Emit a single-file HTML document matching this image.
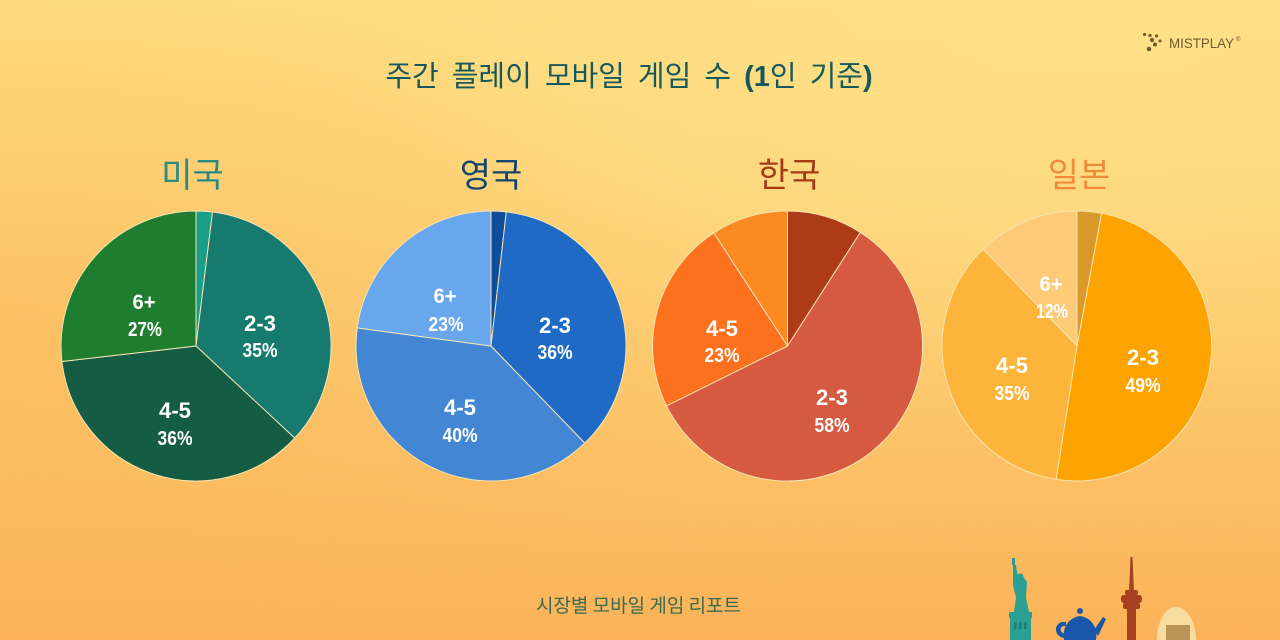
<!DOCTYPE html>
<html>
<head>
<meta charset="utf-8">
<style>
html,body{margin:0;padding:0;}
body{width:1280px;height:640px;overflow:hidden;position:relative;
background:linear-gradient(180deg,#fedc80 0%,#fdd67b 30%,#fdcb70 55%,#fcbd63 78%,#fbb257 100%);}
.wrap{position:absolute;left:0;top:0;width:1280px;height:640px;}
</style>
</head>
<body>
<svg class="wrap" width="1280" height="640" viewBox="0 0 1280 640" xmlns="http://www.w3.org/2000/svg">
  <defs>
    <radialGradient id="lside" cx="0" cy="0.55" r="0.6">
      <stop offset="0" stop-color="#fbb455" stop-opacity="0.55"/>
      <stop offset="1" stop-color="#fbb455" stop-opacity="0"/>
    </radialGradient>
    <radialGradient id="tright" cx="0.85" cy="0" r="0.6">
      <stop offset="0" stop-color="#fee48c" stop-opacity="0.6"/>
      <stop offset="1" stop-color="#fee48c" stop-opacity="0"/>
    </radialGradient>
    <filter id="grain" x="0" y="0" width="100%" height="100%">
      <feTurbulence type="fractalNoise" baseFrequency="0.9" numOctaves="2" seed="3"/>
      <feColorMatrix type="matrix" values="0 0 0 0 0.95  0 0 0 0 0.62  0 0 0 0 0.25  0 0 0 1.4 -0.75"/>
    </filter>
    <linearGradient id="grainfade" x1="0" y1="0" x2="0" y2="1">
      <stop offset="0.55" stop-color="#fff" stop-opacity="0"/>
      <stop offset="1" stop-color="#fff" stop-opacity="1"/>
    </linearGradient>
    <mask id="gm"><rect width="1280" height="640" fill="url(#grainfade)"/></mask>
  </defs>
  <rect width="1280" height="640" fill="url(#lside)"/>
  <rect width="1280" height="640" fill="url(#tright)"/>
  <rect width="1280" height="640" filter="url(#grain)" mask="url(#gm)" opacity="0.5"/>

  <!-- Logo -->
  <g fill="#6e5c2f">
    <circle cx="1144.5" cy="34.5" r="1.6"/>
    <circle cx="1150" cy="35.5" r="1.6"/>
    <circle cx="1156.5" cy="36" r="1.6"/>
    <circle cx="1152" cy="40" r="2.1"/>
    <circle cx="1160" cy="41" r="1.5"/>
    <circle cx="1155" cy="44.5" r="2"/>
    <circle cx="1149" cy="49" r="2.3"/>
  </g>
  <text x="1169" y="48" font-family="Liberation Sans, sans-serif" font-size="13.5" fill="#6e5c2f" textLength="65" lengthAdjust="spacingAndGlyphs">MISTPLAY</text>
  <text x="1236" y="41" font-family="Liberation Sans, sans-serif" font-size="6" fill="#6e5c2f">®</text>

  <!-- Title -->
  <text x="629" y="86" text-anchor="middle" font-family="Liberation Sans, 'Noto Sans CJK KR', sans-serif" font-size="29" fill="#17585a" word-spacing="5">주간 플레이 모바일 게임 수 <tspan font-weight="bold">(1</tspan>인 기준<tspan font-weight="bold">)</tspan></text>

  <!-- Country titles -->
  <g font-family="'Noto Sans CJK KR', sans-serif" font-size="34" text-anchor="middle">
    <text x="192.5" y="187" fill="#2a8a86">미국</text>
    <text x="491" y="187" fill="#15456c">영국</text>
    <text x="789" y="187" fill="#a63a14">한국</text>
    <text x="1079" y="187" fill="#f08b3c">일본</text>
  </g>

  <!-- Pies -->
  <g stroke="#f6e4b2" stroke-width="1" stroke-linejoin="round">
    <!-- USA -->
    <path d="M196,346 L196,211 A135,135 0 0 1 212.5,212 Z" fill="#1a9e8a"/>
    <path d="M196,346 L212.5,212 A135,135 0 0 1 294.7,438.1 Z" fill="#177a6e"/>
    <path d="M196,346 L294.7,438.1 A135,135 0 0 1 61.9,361.5 Z" fill="#145c43"/>
    <path d="M196,346 L61.9,361.5 A135,135 0 0 1 196,211 Z" fill="#1e7d2f"/>
    <!-- UK -->
    <path d="M491,346 L491,211 A135,135 0 0 1 506.3,211.9 Z" fill="#0d4d9c"/>
    <path d="M491,346 L506.3,211.9 A135,135 0 0 1 584.8,443.1 Z" fill="#1e6ac5"/>
    <path d="M491,346 L584.8,443.1 A135,135 0 0 1 357.2,327.9 Z" fill="#4386d3"/>
    <path d="M491,346 L357.2,327.9 A135,135 0 0 1 491,211 Z" fill="#68a7ed"/>
    <!-- Korea -->
    <path d="M787.5,346 L787.5,211 A135,135 0 0 1 860.4,232.4 Z" fill="#ad3b18"/>
    <path d="M787.5,346 L860.4,232.4 A135,135 0 1 1 666.5,405.8 Z" fill="#d65a3f"/>
    <path d="M787.5,346 L666.5,405.8 A135,135 0 0 1 713.8,232.9 Z" fill="#fb711e"/>
    <path d="M787.5,346 L713.8,232.9 A135,135 0 0 1 787.5,211 Z" fill="#fb8a22"/>
    <!-- Japan -->
    <path d="M1077,346 L1077,211 A135,135 0 0 1 1101.6,213.3 Z" fill="#d99a2b"/>
    <path d="M1077,346 L1101.6,213.3 A135,135 0 0 1 1056.1,479.4 Z" fill="#fda300"/>
    <path d="M1077,346 L1056.1,479.4 A135,135 0 0 1 983.1,249.1 Z" fill="#fdb43b"/>
    <path d="M1077,346 L983.1,249.1 A135,135 0 0 1 1077,211 Z" fill="#fdcb78"/>
  </g>

  <!-- Pie labels -->
  <g font-family="'Liberation Sans', sans-serif" font-weight="bold" fill="#ffffff" text-anchor="middle">
    <!-- USA -->
    <text x="144" y="309" font-size="21" textLength="23" lengthAdjust="spacingAndGlyphs">6+</text>
    <text x="145" y="336" font-size="20" textLength="34" lengthAdjust="spacingAndGlyphs">27%</text>
    <text x="260" y="331" font-size="22" textLength="32" lengthAdjust="spacingAndGlyphs">2-3</text>
    <text x="260" y="357" font-size="20" textLength="35" lengthAdjust="spacingAndGlyphs">35%</text>
    <text x="175" y="418" font-size="22" textLength="32" lengthAdjust="spacingAndGlyphs">4-5</text>
    <text x="175" y="445" font-size="20" textLength="35" lengthAdjust="spacingAndGlyphs">36%</text>
    <!-- UK -->
    <text x="445" y="303" font-size="21" textLength="23" lengthAdjust="spacingAndGlyphs">6+</text>
    <text x="446" y="331" font-size="20" textLength="35" lengthAdjust="spacingAndGlyphs">23%</text>
    <text x="555" y="333" font-size="22" textLength="32" lengthAdjust="spacingAndGlyphs">2-3</text>
    <text x="555" y="359" font-size="20" textLength="35" lengthAdjust="spacingAndGlyphs">36%</text>
    <text x="460" y="415" font-size="22" textLength="32" lengthAdjust="spacingAndGlyphs">4-5</text>
    <text x="460" y="442" font-size="20" textLength="35" lengthAdjust="spacingAndGlyphs">40%</text>
    <!-- Korea -->
    <text x="722" y="336" font-size="22" textLength="32" lengthAdjust="spacingAndGlyphs">4-5</text>
    <text x="722" y="362" font-size="20" textLength="35" lengthAdjust="spacingAndGlyphs">23%</text>
    <text x="832" y="405" font-size="22" textLength="32" lengthAdjust="spacingAndGlyphs">2-3</text>
    <text x="832" y="432" font-size="20" textLength="35" lengthAdjust="spacingAndGlyphs">58%</text>
    <!-- Japan -->
    <text x="1051" y="291" font-size="21" textLength="23" lengthAdjust="spacingAndGlyphs">6+</text>
    <text x="1052" y="318" font-size="20" textLength="32" lengthAdjust="spacingAndGlyphs">12%</text>
    <text x="1012" y="373" font-size="22" textLength="32" lengthAdjust="spacingAndGlyphs">4-5</text>
    <text x="1012" y="400" font-size="20" textLength="35" lengthAdjust="spacingAndGlyphs">35%</text>
    <text x="1143" y="365" font-size="22" textLength="32" lengthAdjust="spacingAndGlyphs">2-3</text>
    <text x="1143" y="392" font-size="20" textLength="35" lengthAdjust="spacingAndGlyphs">49%</text>
  </g>

  <!-- Footer -->
  <text x="638.5" y="612" text-anchor="middle" font-family="'Noto Sans CJK KR', sans-serif" font-size="19" fill="#3a6a52">시장별 모바일 게임 리포트</text>

  <!-- Illustrations -->
  <!-- Statue of Liberty -->
  <g fill="#2a9f93">
    <rect x="1012" y="557" width="3" height="8"/>
    <rect x="1011" y="555" width="5" height="3" fill="#f6c64a"/>
    <path d="M1013,565 L1016,565 L1018,578 L1022,575 L1027,582 L1026,598 L1029,612 L1014,612 L1016,598 L1013,585 Z"/>
    <circle cx="1020" cy="577" r="3.5"/>
    <rect x="1009" y="612" width="23" height="6"/>
    <rect x="1010" y="618" width="21" height="22"/>
    <g fill="#1d7f75">
      <rect x="1014" y="622" width="2.5" height="7"/>
      <rect x="1019" y="622" width="2.5" height="7"/>
      <rect x="1024" y="622" width="2.5" height="7"/>
    </g>
  </g>
  <!-- Teapot -->
  <g fill="#1a56a9">
    <circle cx="1080" cy="611" r="3"/>
    <path d="M1064,640 C1062,628 1068,618 1080,616 C1092,618 1098,628 1096,640 Z"/>
    <path d="M1066,622 C1054,620 1052,636 1064,638 L1065,634 C1058,632 1060,625 1066,626 Z"/>
    <path d="M1094,630 L1103,617 L1106,619 L1098,636 Z"/>
  </g>
  <!-- N Seoul Tower -->
  <g fill="#a6401e">
    <path d="M1130.5,557 L1132.5,557 L1134,592 L1129,592 Z"/>
    <rect x="1125" y="590" width="13" height="5" rx="2"/>
    <rect x="1121" y="595" width="21" height="8" rx="3"/>
    <rect x="1123" y="603" width="17" height="6" rx="2"/>
    <rect x="1127" y="609" width="9" height="31"/>
  </g>
  <!-- Egg building -->
  <path d="M1157,640 C1157,622 1165,607 1176,607 C1187,607 1196,622 1196,640 Z" fill="#f8dca0"/>
  <path d="M1166,640 L1166,625 L1190,625 L1190,640 Z" fill="#b99457"/>
</svg>
</body>
</html>
